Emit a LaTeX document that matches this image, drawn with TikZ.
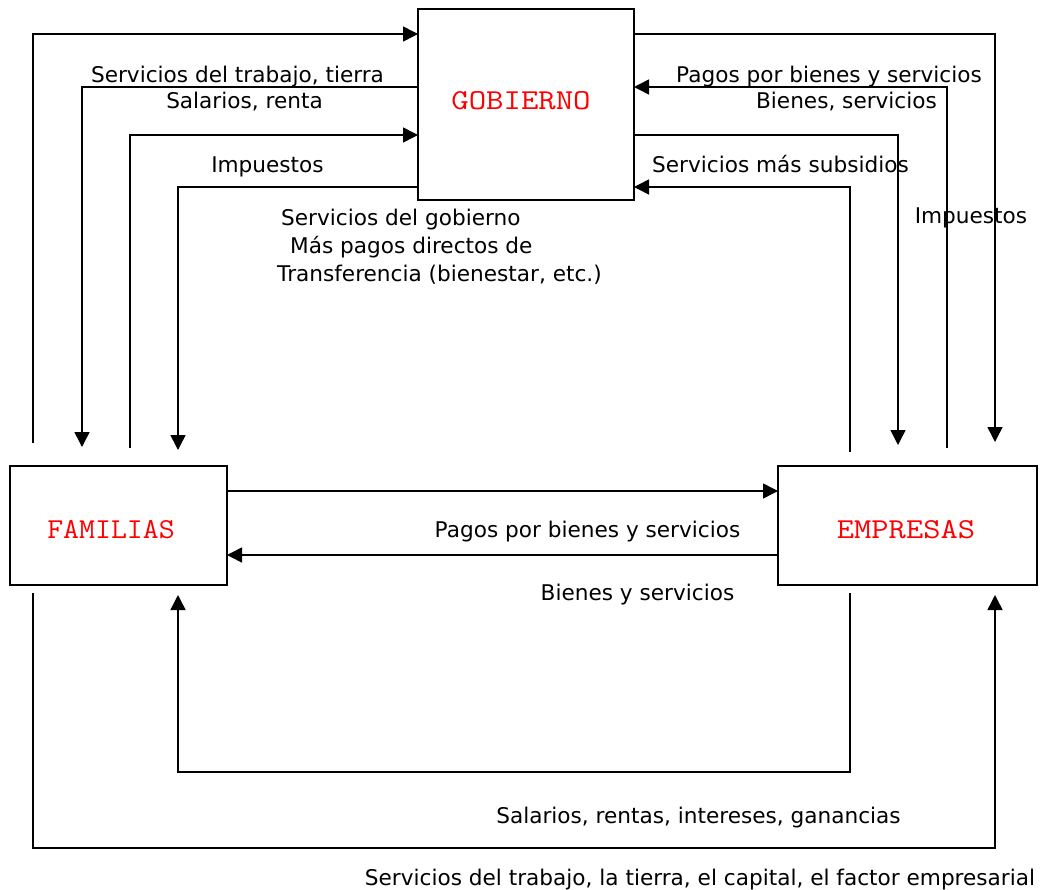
\documentclass[tikz,border=0pt]{standalone}
\usepackage{fontspec}
\usepackage{graphicx}
\setmainfont{DejaVu Sans}
\usetikzlibrary{arrows.meta}
\newcommand{\boxtxt}[2]{\scalebox{#1}[1]{\ttfamily\fontsize{29}{32}\selectfont #2}}
\begin{document}
\begin{tikzpicture}[x=1bp,y=-1bp,
  box/.style={draw, line width=1.5bp, inner sep=0, outer sep=0, text=red},
  flow/.style={line width=1.5bp, -{Triangle[length=15bp,width=15bp]}},
  lbl/.style={font=\fontsize{21.7}{26}\selectfont, inner sep=0, anchor=base},
  lblw/.style={lbl, anchor=base west}]
\fill[white] (0,0) rectangle (1041,890);
\useasboundingbox (0,0) rectangle (1041,890);

% boxes
\node[box, minimum width=216bp, minimum height=191bp, text height=18bp, text depth=8bp] (gob) at (526,104.5) {\boxtxt{1.17}{GOBIERNO}\hspace*{10bp}};
\node[box, minimum width=217bp, minimum height=119bp, text height=26bp, text depth=0bp] (fam) at (118.5,525.5) {\boxtxt{1.07}{FAMILIAS}\hspace*{15bp}};
\node[box, minimum width=259bp, minimum height=119bp, text height=26bp, text depth=0bp] (emp) at (907.5,525.5) {\boxtxt{1.16}{EMPRESAS}\hspace*{3bp}};

% free ends
\coordinate (l1) at (33,443);
\coordinate (l2) at (82,447);
\coordinate (l3) at (130,448);
\coordinate (l4) at (178,450);
\coordinate (r1) at (995,442);
\coordinate (r2) at (947,448);
\coordinate (r3) at (898,445);
\coordinate (r4) at (850,452);
\coordinate (b1s) at (850,593);
\coordinate (b1c) at (178,772);
\coordinate (b1e) at (178,595);
\coordinate (b2s) at (33,593);
\coordinate (b2c) at (995,848);
\coordinate (b2e) at (995,595);

% left connectors
\draw[flow] (l1) |- ([yshift=-25bp]gob.north west);
\draw[flow] ([yshift=-78bp]gob.north west) -| (l2);
\draw[flow] (l3) |- ([yshift=-126bp]gob.north west);
\draw[flow] ([yshift=-178bp]gob.north west) -| (l4);

% right connectors
\draw[flow] ([yshift=-25bp]gob.north east) -| (r1);
\draw[flow] (r2) |- ([yshift=-78bp]gob.north east);
\draw[flow] ([yshift=-126bp]gob.north east) -| (r3);
\draw[flow] (r4) |- ([yshift=-178bp]gob.north east);

% middle
\draw[flow] ([yshift=-25bp]fam.north east) -- ([yshift=-25bp]emp.north west);
\draw[flow] ([yshift=-89bp]emp.north west) -- ([yshift=-89bp]fam.north east);

% bottom loops
\draw[flow] (b1s) |- (b1c) -- (b1e);
\draw[flow] (b2s) |- (b2c) -- (b2e);

% labels
\node[lbl] (t1) at (237.5,82) {Servicios del trabajo, tierra};
\node[lbl] (t2) at (244.5,108) {Salarios, renta};
\node[lbl] (t3) at (267.5,172) {Impuestos};
\node[lblw] (t4a) at (281,225) {Servicios del gobierno};
\node[lblw] (t4b) at (290,253) {Más pagos directos de};
\node[lblw] (t4c) at (277,281) {Transferencia (bienestar, etc.)};
\node[lbl] (t5) at (829,82) {Pagos por bienes y servicios};
\node[lbl] (t6) at (846.5,108) {Bienes, servicios};
\node[lbl] (t7) at (780.5,172) {Servicios más subsidios};
\node[lbl] (t8) at (971,223) {Impuestos};
\node[lbl] (t9) at (587.5,537) {Pagos por bienes y servicios};
\node[lbl] (t10) at (637.5,600) {Bienes y servicios};
\node[lbl] (t11) at (698.5,823) {Salarios, rentas, intereses, ganancias};
\node[lbl] (t12) at (700,885) {Servicios del trabajo, la tierra, el capital, el factor empresarial};
\end{tikzpicture}
\end{document}
